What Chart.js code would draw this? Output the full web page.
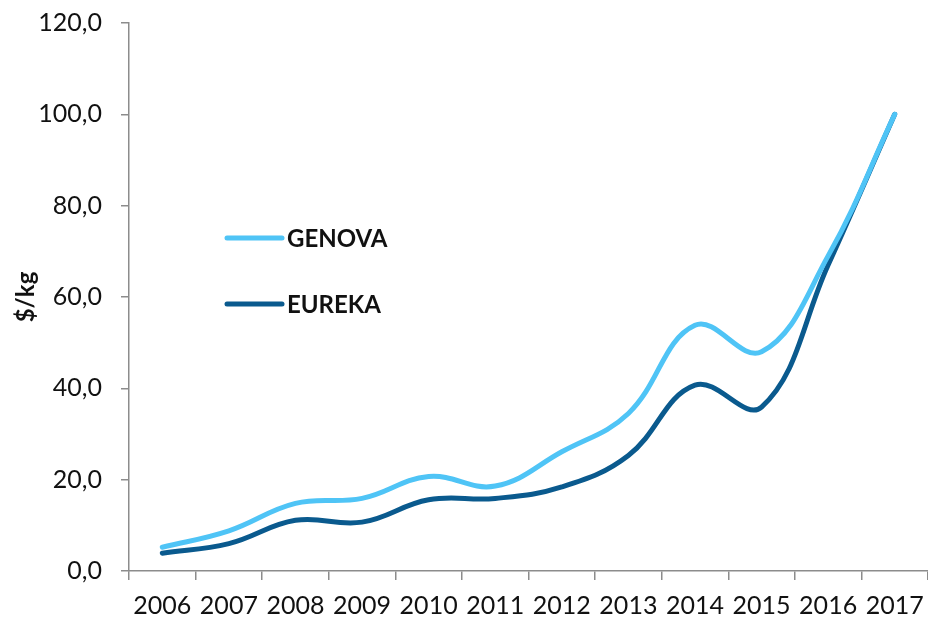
<!DOCTYPE html>
<html>
<head>
<meta charset="utf-8">
<script src="https://cdn.jsdelivr.net/npm/chart.js@4"></script>
<style>
  html, body { margin: 0; padding: 0; background: #fff; }
  #wrap { position: relative; width: 928px; height: 619px; }
</style>
</head>
<body>
<div id="wrap"><canvas id="chart"></canvas></div>
<script>
// data
const years = ['2006', '2007', '2008', '2009', '2010', '2011', '2012', '2013', '2014', '2015', '2016', '2017'];
const genova = [5.2, 8.8, 14.8, 15.9, 20.7, 18.6, 26.1, 34.5, 53.8, 48.0, 69.0, 100.0];
const eureka = [3.9, 6.0, 11.1, 10.7, 15.6, 15.9, 18.4, 25.3, 40.7, 35.9, 67.0, 100.0];
const yTicks = [0, 20, 40, 60, 80, 100, 120];

const axisGrey = '#8c8c8c';
const fontFamily = 'Lato, "Open Sans", sans-serif';

// legend drawn inside the plot area, like the Excel original
const innerLegend = {
    id: 'innerLegend',
    afterDraw: function (chart, args, opts) {
        const ctx = chart.ctx;
        const area = chart.chartArea;
        ctx.save();
        chart.data.datasets.forEach(function (ds, i) {
            const y = area.top + opts.y + i * opts.gap;
            const x = area.left + opts.x;
            ctx.strokeStyle = ds.borderColor;
            ctx.lineWidth = ds.borderWidth;
            ctx.lineCap = 'round';
            ctx.beginPath();
            ctx.moveTo(x, y);
            ctx.lineTo(x + opts.lineLength, y);
            ctx.stroke();
            ctx.fillStyle = '#111';
            ctx.font = 'bold 24px ' + fontFamily;
            ctx.textBaseline = 'middle';
            ctx.textAlign = 'left';
            ctx.fillText(ds.label, x + opts.lineLength + 5, y + 1);
        });
        ctx.restore();
    }
};

new Chart(document.getElementById('chart'), {
    type: 'line',
    data: {
        labels: years,
        datasets: [
            { label: 'GENOVA', data: genova, borderColor: '#4fc4f6', borderWidth: 5 },
            { label: 'EUREKA', data: eureka, borderColor: '#0a5a8e', borderWidth: 5 }
        ]
    },
    options: {
        responsive: true, maintainAspectRatio: false,
        animation: false,
        layout: { padding: { top: 23, right: 0, left: 0, bottom: 0 } },
        elements: {
            point: { radius: 0 },
            line: { tension: 0.4, borderCapStyle: 'round', borderJoinStyle: 'round' }
        },
        plugins: {
            legend: { display: false },
            tooltip: { enabled: false },
            innerLegend: { x: 98, y: 215, gap: 66, lineLength: 55 }
        },
        scales: {
            x: {
                offset: true,
                grid: { offset: true, drawOnChartArea: false, drawTicks: true, tickLength: 9, color: axisGrey, lineWidth: 1.5 },
                border: { display: true, color: axisGrey, width: 1.5 },
                ticks: {
                    autoSkip: false, maxRotation: 0, padding: 11,
                    color: '#111', font: { family: fontFamily, size: 25 }
                },
                afterFit: function (s) { s.height = 48; s.paddingLeft = 0; s.paddingRight = 0; }
            },
            y: {
                min: 0, max: 120,
                grid: { drawOnChartArea: false, drawTicks: true, tickLength: 8, color: axisGrey, lineWidth: 1.5 },
                border: { display: true, color: axisGrey, width: 1.5 },
                afterBuildTicks: function (s) { s.ticks = yTicks.map(v => ({ value: v })); },
                ticks: {
                    padding: 19,
                    color: '#111', font: { family: fontFamily, size: 25 },
                    callback: function (value) { return value.toFixed(1).replace('.', ','); }
                },
                title: {
                    display: true, text: '$/kg', color: '#111',
                    font: { family: fontFamily, size: 24, weight: 'bold' },
                    padding: { top: 12, bottom: 0 }
                },
                afterFit: function (s) { s.width = 129; s.paddingTop = 0; s.paddingBottom = 0; }
            }
        }
    },
    plugins: [innerLegend]
});
</script>
</body>
</html>
